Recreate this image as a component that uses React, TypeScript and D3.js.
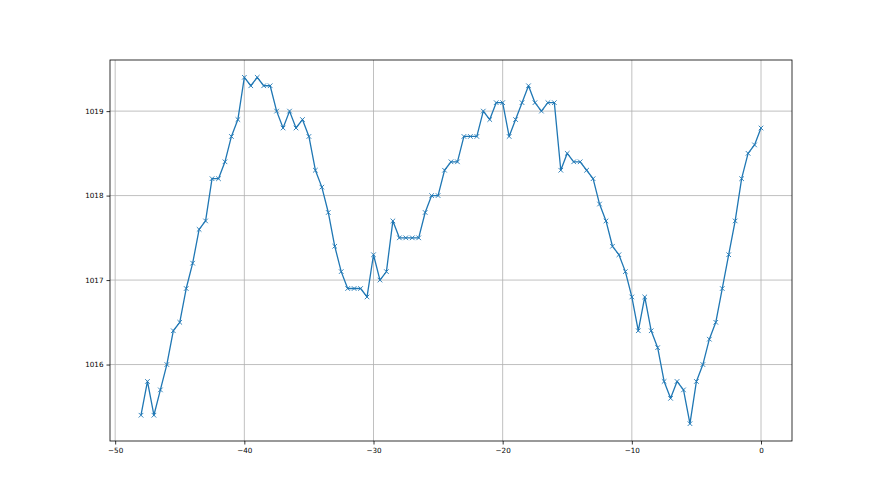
import { useEffect, useRef } from 'react';
import * as d3 from 'd3';

// hours relative to now
const hours = [
  -48, -47.5, -47, -46.5, -46, -45.5, -45, -44.5, -44, -43.5, -43, -42.5, -42, -41.5, -41, -40.5,
  -40, -39.5, -39, -38.5, -38, -37.5, -37, -36.5, -36, -35.5, -35, -34.5, -34, -33.5, -33, -32.5,
  -32, -31.5, -31, -30.5, -30, -29.5, -29, -28.5, -28, -27.5, -27, -26.5, -26, -25.5, -25, -24.5,
  -24, -23.5, -23, -22.5, -22, -21.5, -21, -20.5, -20, -19.5, -19, -18.5, -18, -17.5, -17, -16.5,
  -16, -15.5, -15, -14.5, -14, -13.5, -13, -12.5, -12, -11.5, -11, -10.5, -10, -9.5, -9, -8.5,
  -8, -7.5, -7, -6.5, -6, -5.5, -5, -4.5, -4, -3.5, -3, -2.5, -2, -1.5, -1, -0.5, 0,
];

// pressure readings (hPa)
const pressure = [
  1015.4, 1015.8, 1015.4, 1015.7, 1016.0, 1016.4, 1016.5, 1016.9, 1017.2, 1017.6, 1017.7, 1018.2, 1018.2, 1018.4, 1018.7, 1018.9,
  1019.4, 1019.3, 1019.4, 1019.3, 1019.3, 1019.0, 1018.8, 1019.0, 1018.8, 1018.9, 1018.7, 1018.3, 1018.1, 1017.8, 1017.4, 1017.1,
  1016.9, 1016.9, 1016.9, 1016.8, 1017.3, 1017.0, 1017.1, 1017.7, 1017.5, 1017.5, 1017.5, 1017.5, 1017.8, 1018.0, 1018.0, 1018.3,
  1018.4, 1018.4, 1018.7, 1018.7, 1018.7, 1019.0, 1018.9, 1019.1, 1019.1, 1018.7, 1018.9, 1019.1, 1019.3, 1019.1, 1019.0, 1019.1,
  1019.1, 1018.3, 1018.5, 1018.4, 1018.4, 1018.3, 1018.2, 1017.9, 1017.7, 1017.4, 1017.3, 1017.1, 1016.8, 1016.4, 1016.8, 1016.4,
  1016.2, 1015.8, 1015.6, 1015.8, 1015.7, 1015.3, 1015.8, 1016.0, 1016.3, 1016.5, 1016.9, 1017.3, 1017.7, 1018.2, 1018.5, 1018.6,
  1018.8,
];

const xTicks = [-50, -40, -30, -20, -10, 0];
const yTicks = [1016, 1017, 1018, 1019];

const App = () => {
  const ref = useRef<SVGSVGElement>(null);

  useEffect(() => {
    const W = 880;
    const H = 495;
    const margin = { top: 60, right: 88, bottom: 54, left: 110 };
    const w = W - margin.left - margin.right;
    const h = H - margin.top - margin.bottom;

    const svg = d3.select(ref.current);
    svg.selectAll('*').remove();
    svg.append('rect').attr('width', W).attr('height', H).attr('fill', '#fff');

    const g = svg.append('g').attr('transform', `translate(${margin.left},${margin.top})`);

    // matplotlib style 5% padding
    const xExt = d3.extent(hours) as [number, number];
    const xPad = (xExt[1] - xExt[0]) * 0.05;
    const yExt = d3.extent(pressure) as [number, number];
    const yPad = (yExt[1] - yExt[0]) * 0.05;

    const x = d3.scaleLinear().domain([xExt[0] - xPad, xExt[1] + xPad]).range([0, w]);
    const y = d3.scaleLinear().domain([yExt[0] - yPad, yExt[1] + yPad]).range([h, 0]);

    // grid
    g.append('g')
      .selectAll('line')
      .data(xTicks)
      .join('line')
      .attr('x1', d => x(d)).attr('x2', d => x(d))
      .attr('y1', 0).attr('y2', h)
      .attr('stroke', '#b0b0b0').attr('stroke-width', 0.8);
    g.append('g')
      .selectAll('line')
      .data(yTicks)
      .join('line')
      .attr('x1', 0).attr('x2', w)
      .attr('y1', d => y(d)).attr('y2', d => y(d))
      .attr('stroke', '#b0b0b0').attr('stroke-width', 0.8);

    const pts = hours.map((t, i) => [t, pressure[i]] as [number, number]);
    const line = d3.line<[number, number]>().x(d => x(d[0])).y(d => y(d[1]));

    g.append('path')
      .datum(pts)
      .attr('fill', 'none')
      .attr('stroke', '#1f77b4')
      .attr('stroke-width', 1.3)
      .attr('stroke-linejoin', 'round')
      .attr('d', line);

    // x markers
    const m = 2.3;
    g.append('g')
      .selectAll('path')
      .data(pts)
      .join('path')
      .attr('d', d => {
        const cx = x(d[0]);
        const cy = y(d[1]);
        return `M${cx - m},${cy - m}L${cx + m},${cy + m}M${cx - m},${cy + m}L${cx + m},${cy - m}`;
      })
      .attr('stroke', '#1f77b4')
      .attr('stroke-width', 0.9)
      .attr('fill', 'none');

    // axes
    const font = "'DejaVu Sans', sans-serif";
    const xAxis = g.append('g')
      .attr('transform', `translate(0,${h})`)
      .call(d3.axisBottom(x).tickValues(xTicks).tickSize(3.5).tickPadding(3).tickFormat(d => d3.format('d')(d as number).replace('-', '\u2212')));
    const yAxis = g.append('g')
      .call(d3.axisLeft(y).tickValues(yTicks).tickSize(3.5).tickPadding(3).tickFormat(d3.format('d')));
    [xAxis, yAxis].forEach(a => {
      a.select('.domain').remove();
      a.selectAll('line').attr('stroke', '#000').attr('stroke-width', 0.8);
      a.selectAll('text').attr('font-family', font).attr('font-size', 7.2).attr('fill', '#000');
    });

    // spines
    g.append('rect')
      .attr('width', w).attr('height', h)
      .attr('fill', 'none').attr('stroke', '#000').attr('stroke-width', 0.8);
  }, []);

  return (
    <svg
      ref={ref}
      width={880}
      height={495}
      style={{ position: 'absolute', left: 0, top: 0, display: 'block' }}
    />
  );
};

export default App;
